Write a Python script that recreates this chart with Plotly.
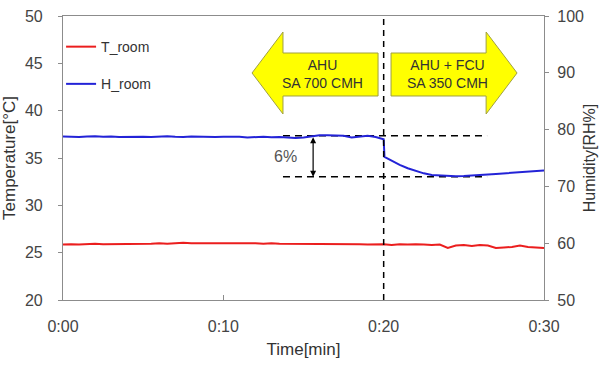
import plotly.graph_objects as go

# ---- data ----
t_temp = [i * 0.5 for i in range(61)]
T_room = [
    25.85, 25.9, 25.85, 25.9, 25.95, 25.9, 25.9, 25.95, 25.9, 25.95, 25.9,
    25.95, 26.0, 25.95, 26.0, 26.05, 26.0, 26.0, 26.05, 26.0, 26.0,
    26.05, 26.0, 26.05, 26.0, 25.95, 26.0, 25.95, 25.95, 25.9, 25.95,
    25.9, 25.95, 25.9, 25.9, 25.95, 25.9, 25.9, 25.85, 25.9, 25.9,
    25.8, 25.9, 25.85, 25.9, 25.85, 25.8, 25.85, 25.5, 25.75, 25.8,
    25.7, 25.8, 25.75, 25.5, 25.55, 25.6, 25.75, 25.6, 25.55, 25.5,
]
t_hum = [i * 0.5 for i in range(41)] + [20.05] + [20.5 + i * 0.5 for i in range(20)]
H_room = [
    78.8, 78.75, 78.7, 78.8, 78.85, 78.75, 78.8, 78.7, 78.75, 78.8, 78.75,
    78.7, 78.8, 78.85, 78.75, 78.7, 78.8, 78.75, 78.8, 78.7, 78.75,
    78.8, 78.75, 78.6, 78.7, 78.75, 78.65, 78.7, 78.6, 78.5, 78.6,
    78.8, 79.0, 79.0, 78.95, 78.9, 78.6, 78.8, 78.9, 78.7,
    78.3,
    75.2,
    74.5, 73.8, 73.2, 72.7, 72.3, 72.0, 71.9, 71.8, 71.8, 71.85,
    71.9, 72.0, 72.1, 72.2, 72.3, 72.4, 72.5, 72.6, 72.6, 72.8,
]
x_tickvals = [0, 10, 20, 30]
x_ticktext = ["0:00", "0:10", "0:20", "0:30"]
switch_time = 20
h_upper, h_lower = 78.9, 71.7

FONT = "Liberation Sans"
GRAY = "#8c8c8c"

fig = go.Figure()
fig.add_trace(go.Scatter(x=t_temp, y=T_room, name="T_room", mode="lines",
                         line=dict(color="rgb(235,30,30)", width=2),
                         legendgroup="a"))
fig.add_trace(go.Scatter(x=t_hum, y=H_room, name="H_room", mode="lines",
                         line=dict(color="rgb(35,35,215)", width=2),
                         legendgroup="b", yaxis="y2"))

# yellow arrows (data coords: minutes, temperature)
left_arrow = "M 11.79 43.98 L 13.72 48.31 L 13.72 46.09 L 19.65 46.09 L 19.65 41.55 L 13.72 41.55 L 13.72 39.65 Z"
right_arrow = "M 20.46 46.09 L 26.39 46.09 L 26.39 48.31 L 28.32 43.98 L 26.39 39.65 L 26.39 41.55 L 20.46 41.55 Z"
shapes = [
    dict(type="path", path=left_arrow, xref="x", yref="y",
         fillcolor="#ffff00", line=dict(color="#a0a040", width=1), layer="above"),
    dict(type="path", path=right_arrow, xref="x", yref="y",
         fillcolor="#ffff00", line=dict(color="#a0a040", width=1), layer="above"),
    dict(type="line", x0=switch_time, x1=switch_time, y0=0, y1=1, xref="x", yref="paper",
         line=dict(color="black", width=1.5, dash="6px,5px"), layer="above"),
    dict(type="line", x0=13.72, x1=26.45, y0=h_upper, y1=h_upper, xref="x", yref="y2",
         line=dict(color="black", width=1.5, dash="7px,5px"), layer="below"),
    dict(type="line", x0=13.72, x1=26.45, y0=h_lower, y1=h_lower, xref="x", yref="y2",
         line=dict(color="black", width=1.5, dash="7px,5px"), layer="below"),
]

annotations = [
    dict(x=16.2, y=43.9, xref="x", yref="y", text="AHU<br>SA 700 CMH", showarrow=False,
         font=dict(family=FONT, size=14, color="#333333")),
    dict(x=23.95, y=43.9, xref="x", yref="y", text="AHU + FCU<br>SA 350 CMH", showarrow=False,
         font=dict(family=FONT, size=14, color="#333333")),
    dict(x=15.6, y=h_lower, xref="x", yref="y2", ax=15.6, ay=h_upper, axref="x", ayref="y2",
         text="", showarrow=True, arrowhead=2, startarrowhead=2, arrowside="end+start",
         arrowsize=1, arrowwidth=1.2, arrowcolor="black"),
    dict(x=13.9, y=75.3, xref="x", yref="y2", text="6%", showarrow=False,
         font=dict(family=FONT, size=16, color="#555555")),
]

fig.update_layout(
    width=606, height=371,
    margin=dict(l=63, r=62, t=16, b=71),
    paper_bgcolor="white", plot_bgcolor="white",
    font=dict(family=FONT, size=16, color="#444444"),
    shapes=shapes, annotations=annotations,
    showlegend=True,
    legend=dict(x=-0.004, y=0.947, xanchor="left", yanchor="top",
                bgcolor="rgba(0,0,0,0)", font=dict(size=14, color="#333333"),
                traceorder="grouped", tracegroupgap=16, itemwidth=30),
    xaxis=dict(range=[0, 30], tickvals=x_tickvals, ticktext=x_ticktext, automargin=False,
               showgrid=False, zeroline=False, showline=True, linecolor=GRAY,
               linewidth=1.2, mirror=True, ticks="inside", ticklen=5, tickcolor=GRAY,
               ticklabelstandoff=12,
               title=dict(text="Time[min]", standoff=8, font=dict(size=17, color="#333333"))),
    yaxis=dict(range=[20, 50], dtick=5, showgrid=False, zeroline=False, showline=True,
               automargin=False,
               linecolor=GRAY, linewidth=1.2, ticks="outside", ticklen=4, tickcolor=GRAY,
               ticklabelstandoff=12,
               title=dict(text="Temperature[°C]", standoff=4, font=dict(size=17, color="#333333"))),
    yaxis2=dict(range=[50, 100], dtick=10, overlaying="y", side="right", showgrid=False,
                automargin=False,
                zeroline=False, showline=True, linecolor=GRAY, linewidth=1.2,
                ticks="outside", ticklen=4, tickcolor=GRAY, ticklabelstandoff=5,
                title=dict(text="Humidity[RH%]", standoff=0, font=dict(size=16, color="#333333"))),
)

fig.write_html("out.html")
